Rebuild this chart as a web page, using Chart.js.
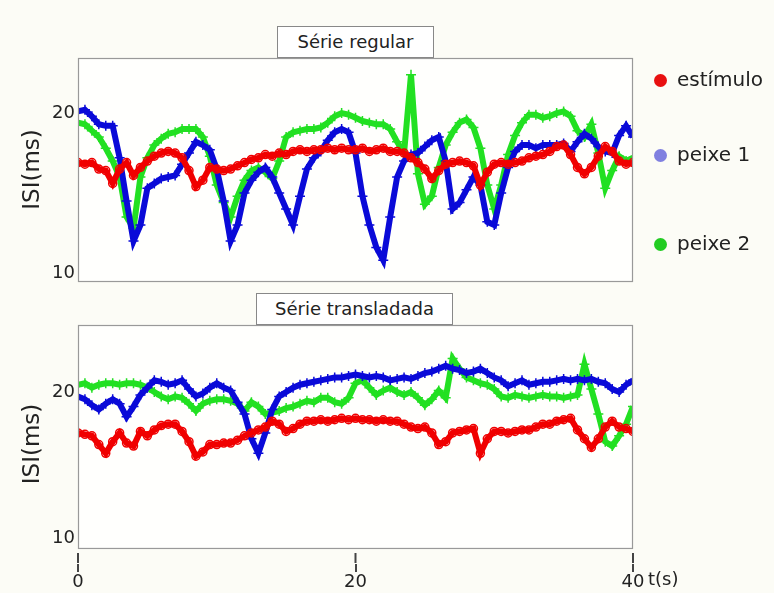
<!DOCTYPE html>
<html lang="pt">
<head>
<meta charset="utf-8">
<script src="https://cdn.jsdelivr.net/npm/chart.js@4.4.1/dist/chart.umd.min.js"></script>
<style>
    body { margin: 0; background: #fcfcf6; font-family: "DejaVu Sans", sans-serif; }
    #fig { position: relative; width: 774px; height: 593px; overflow: hidden; }
    canvas { position: absolute; left: 0; }
    .titulo {
        position: absolute; box-sizing: border-box; border: 1px solid #888;
        background: #fff; color: #222; font-size: 18px; text-align: center; line-height: 29px;
    }
    .legenda { position: absolute; left: 654px; color: #222; font-size: 20px; line-height: 24px; }
    .legenda span.ponto {
        display: inline-block; width: 13px; height: 13px; border-radius: 50%;
        margin-right: 10px; vertical-align: -1px;
    }
    #eixo-t { position: absolute; left: 648px; top: 568px; font-size: 18px; color: #222; }
</style>
</head>
<body>
<div id="fig">
    <canvas id="regular" width="774" height="290" style="top:0"></canvas>
    <canvas id="transladada" width="774" height="303" style="top:290px"></canvas>
    <div class="titulo" style="left:277px; top:26px; width:157px; height:32px;">Série regular</div>
    <div class="titulo" style="left:256px; top:293px; width:197px; height:32px;">Série transladada</div>
    <div id="legenda"></div>
    <div id="eixo-t">t(s)</div>
</div>
<script>
// amostras a cada 0,5 s, de 0 a 40 s
const PASSO = 0.5;
const X_TICKS = [0, 20, 40];
const Y_TICKS = [10, 20];

const NOMES = ['estímulo', 'peixe 1', 'peixe 2'];
const CORES = ['#f00000', '#0a0ad8', '#22e022'];
const CORES_LEGENDA = ['#e81010', '#8080e0', '#22cc22'];

// Série regular
const regEstimulo = [
    16.9, 16.8, 16.9, 16.5, 16.4, 15.6, 16.5, 16.9, 16.1, 16.6,
    17.0, 17.3, 17.5, 17.6, 17.5, 17.2, 16.4, 15.4, 15.8, 16.6,
    16.5, 16.4, 16.5, 16.7, 16.9, 17.1, 17.2, 17.4, 17.3, 17.5,
    17.4, 17.6, 17.7, 17.6, 17.7, 17.7, 17.8, 17.7, 17.8, 17.7,
    17.7, 17.8, 17.6, 17.7, 17.8, 17.6, 17.6, 17.5, 17.2, 16.9,
    16.5, 15.9, 16.4, 16.8, 16.9, 17.0, 16.9, 16.7, 15.5, 16.3,
    16.8, 16.9, 16.8, 16.9, 17.0, 17.2, 17.3, 17.4, 17.6, 17.9,
    18.0, 17.4, 16.6, 16.2, 16.6, 17.3, 17.9, 17.6, 17.0, 16.8,
    16.9
];
const regPeixe1 = [
    20.1, 20.2, 19.8, 19.3, 19.2, 19.2, 17.2, 14.5, 12.0, 13.0,
    15.3, 15.6, 15.9, 16.0, 16.1, 16.8, 17.5, 18.2, 18.0, 17.7,
    16.5, 14.5, 12.0, 13.0, 15.0, 15.8, 16.3, 16.6, 16.0, 15.0,
    14.0, 13.0, 14.8, 16.5, 17.2, 17.6, 18.3, 18.8, 19.0, 18.8,
    17.5, 14.8, 13.0, 11.6, 10.8, 13.5, 16.0, 17.0, 17.4, 17.5,
    17.9, 18.3, 18.5, 17.0, 14.0, 14.4, 15.2, 16.0, 15.5, 13.2,
    13.0, 15.0, 16.6, 17.6, 18.0, 18.0, 17.8, 18.0, 18.0, 18.0,
    18.1, 17.6, 18.2, 18.7, 18.4, 17.9, 17.6, 17.5, 18.6, 19.2,
    18.5
];
const regPeixe2 = [
    19.4, 19.3, 18.9, 18.5, 17.8, 17.0, 16.0, 13.5, 12.8, 16.0,
    17.2, 18.0, 18.4, 18.7, 18.8, 19.0, 19.0, 19.0, 18.5, 17.3,
    15.5, 14.4, 13.5, 14.8, 15.8, 16.4, 16.6, 16.3, 15.9, 17.0,
    18.5, 18.8, 18.9, 19.0, 19.0, 19.1, 19.4, 19.8, 20.0, 19.9,
    19.7, 19.5, 19.4, 19.3, 19.3, 19.0, 18.2, 17.5, 22.4, 16.2,
    14.3, 14.8, 16.6, 18.0, 18.8, 19.4, 19.6, 19.1, 17.8, 15.5,
    14.0, 15.5, 17.4, 18.6, 19.4, 19.9, 19.9, 19.7, 19.8, 20.0,
    20.1, 19.8, 18.9, 18.5, 19.3, 17.5, 15.3, 16.4, 17.3, 17.0,
    17.2
];

// Série transladada
const traEstimulo = [
    17.2, 17.1, 17.0, 16.4, 15.8, 16.6, 17.2, 16.5, 16.3, 17.3,
    17.0, 17.4, 17.7, 17.8, 17.8, 17.3, 16.6, 15.6, 15.9, 16.4,
    16.4, 16.5, 16.5, 16.7, 17.0, 17.2, 17.4, 17.6, 18.0, 17.8,
    17.3, 17.5, 17.8, 18.0, 18.0, 18.1, 18.0, 18.1, 18.2, 18.1,
    18.2, 18.1, 18.1, 18.0, 18.1, 18.0, 18.0, 17.8, 17.6, 17.5,
    17.6, 17.2, 16.4, 16.6, 17.2, 17.3, 17.4, 17.5, 15.8, 16.8,
    17.3, 17.3, 17.2, 17.3, 17.4, 17.4, 17.6, 17.8, 17.8, 18.0,
    18.1, 18.2, 17.4, 16.8, 16.2, 16.8, 17.6, 18.0, 17.6, 17.5,
    17.3
];
const traPeixe1 = [
    19.7, 19.5, 19.1, 18.8, 19.2, 19.5, 19.2, 18.3, 19.0, 19.8,
    20.3, 20.8, 20.7, 20.5, 20.6, 20.8, 20.2, 19.7, 19.9, 20.3,
    20.6, 20.3, 20.1, 19.3, 18.5, 16.8, 15.8, 17.2, 18.8, 19.7,
    20.0, 20.3, 20.5, 20.6, 20.7, 20.8, 20.9, 21.0, 21.0, 21.1,
    21.2, 21.1, 21.0, 21.1, 21.0, 20.8, 20.9, 21.0, 20.9, 21.1,
    21.3, 21.4, 21.6, 21.8, 21.6, 21.5, 21.3, 21.4, 21.6, 21.3,
    21.0, 20.8, 20.4, 20.6, 20.8, 20.5, 20.6, 20.7, 20.7, 20.8,
    20.9, 20.8, 20.9, 20.8, 20.9, 20.7, 20.6, 20.2, 20.0, 20.5,
    20.8
];
const traPeixe2 = [
    20.5, 20.6, 20.3, 20.5, 20.6, 20.6, 20.5, 20.6, 20.6, 20.5,
    20.3, 20.0, 19.7, 19.5, 19.7, 19.6, 19.2, 18.7, 19.2, 19.4,
    19.5, 19.5, 19.4, 19.2, 18.7, 19.3, 19.0, 18.5, 18.6, 18.7,
    18.9, 19.0, 19.2, 19.4, 19.3, 19.6, 19.6, 19.3, 19.2, 19.6,
    20.6, 20.8, 20.3, 19.8, 20.1, 20.3, 20.0, 19.8, 20.0, 19.6,
    19.1, 19.5, 20.1, 19.6, 22.3, 21.6, 21.0, 20.8, 20.6, 20.5,
    20.2, 19.7, 19.6, 19.8, 19.7, 19.6, 19.7, 19.8, 19.7, 19.7,
    19.6, 19.7, 19.8, 21.9, 20.2, 18.5, 16.6, 16.3, 17.0, 17.8,
    19.0
];

const ESTILOS = ['circle', 'cross', 'cross'];

function serie(i, valores) {
    return {
        label: NOMES[i],
        data: valores.map((v, k) => ({ x: k * PASSO, y: v })),
        showLine: true,
        borderColor: CORES[i],
        borderWidth: 6,
        pointStyle: ESTILOS[i],
        pointRadius: i === 0 ? 4 : 5,
        pointBorderColor: CORES[i],
        pointBackgroundColor: 'rgba(0,0,0,0)',
        pointBorderWidth: 1.5,
        tension: 0
    };
}

// moldura cinza em volta da área do gráfico (e marcas do eixo t)
const moldura = {
    id: 'moldura',
    beforeDatasetsDraw(chart, args, opts) {
        const { ctx, chartArea: a, scales } = chart;
        const base = opts.minimo != null ? scales.y.getPixelForValue(opts.minimo) : a.bottom;
        ctx.save();
        ctx.fillStyle = '#fffffd';
        ctx.fillRect(a.left, a.top, a.right - a.left, base - a.top);
        ctx.restore();
    },
    afterDatasetsDraw(chart, args, opts) {
        const { ctx, chartArea: a, scales } = chart;
        const base = opts.minimo != null ? scales.y.getPixelForValue(opts.minimo) : a.bottom;
        ctx.save();
        // esconde o que passou da caixa
        ctx.fillStyle = '#fcfcf6';
        ctx.fillRect(a.left - 2, base + 1, a.right - a.left + 4, a.bottom - base);
        ctx.strokeStyle = '#999';
        ctx.lineWidth = 1.2;
        ctx.strokeRect(a.left + 0.5, a.top + 0.5, a.right - a.left - 1, base - a.top);
        if (opts.eixo) {
            ctx.strokeStyle = '#444';
            ctx.lineWidth = 2;
            X_TICKS.forEach(v => {
                const px = scales.x.getPixelForValue(v);
                ctx.beginPath();
                ctx.moveTo(px, a.bottom - 10);
                ctx.lineTo(px, a.bottom);
                ctx.stroke();
            });
        }
        ctx.restore();
    }
};

function opcoes(yMin, yMax, comEixoX, frameMin) {
    return {
        responsive: false,
        animation: false,
        devicePixelRatio: 1,
        layout: { padding: { left: 0, right: 141, top: comEixoX ? 35 : 58, bottom: comEixoX ? 0 : 9 } },
        plugins: {
            legend: { display: false },
            tooltip: { enabled: false },
            moldura: { minimo: frameMin, eixo: comEixoX }
        },
        scales: {
            x: {
                type: 'linear', min: 0, max: 40,
                display: comEixoX,
                afterBuildTicks: s => { s.ticks = X_TICKS.map(v => ({ value: v })); },
                afterFit: s => {
                    s.height = comEixoX ? 30 : 0;
                    s.paddingLeft = 0;
                    s.paddingRight = 0;
                },
                grid: { drawOnChartArea: false, drawTicks: true, tickLength: 9, color: '#444', lineWidth: 2 },
                border: { display: true, color: '#555', width: 2 },
                ticks: { padding: 0, color: '#222', font: { family: 'DejaVu Sans', size: 18 }, maxRotation: 0 }
            },
            y: {
                type: 'linear', min: yMin, max: yMax,
                afterBuildTicks: s => { s.ticks = Y_TICKS.map(v => ({ value: v })); },
                afterFit: s => { s.width = 78; s.paddingTop = 0; s.paddingBottom = 0; },
                grid: { display: false, drawTicks: false },
                border: { display: false },
                ticks: { padding: 3, color: '#222', font: { family: 'DejaVu Sans', size: 18 } },
                title: {
                    display: true, text: 'ISI(ms)', color: '#222',
                    font: { family: 'DejaVu Sans', size: 23 },
                    padding: { top: 19, bottom: 0 }
                }
            }
        }
    };
}

new Chart(document.getElementById('regular'), {
    type: 'scatter',
    data: { datasets: [serie(0, regEstimulo), serie(1, regPeixe1), serie(2, regPeixe2)] },
    options: opcoes(9.5, 23.44, false, null),
    plugins: [moldura]
});

new Chart(document.getElementById('transladada'), {
    type: 'scatter',
    data: { datasets: [serie(0, traEstimulo), serie(1, traPeixe1), serie(2, traPeixe2)] },
    options: opcoes(8.29, 24.59, true, 9.32),
    plugins: [moldura]
});

// legenda à direita do painel de cima
const POS_LEGENDA = [67, 142, 231];
const leg = document.getElementById('legenda');
NOMES.forEach((nome, i) => {
    leg.insertAdjacentHTML('beforeend',
        `<div class="legenda" style="top:${POS_LEGENDA[i]}px"><span class="ponto" style="background:${CORES_LEGENDA[i]}"></span>${nome}</div>`);
});
</script>
</body>
</html>
